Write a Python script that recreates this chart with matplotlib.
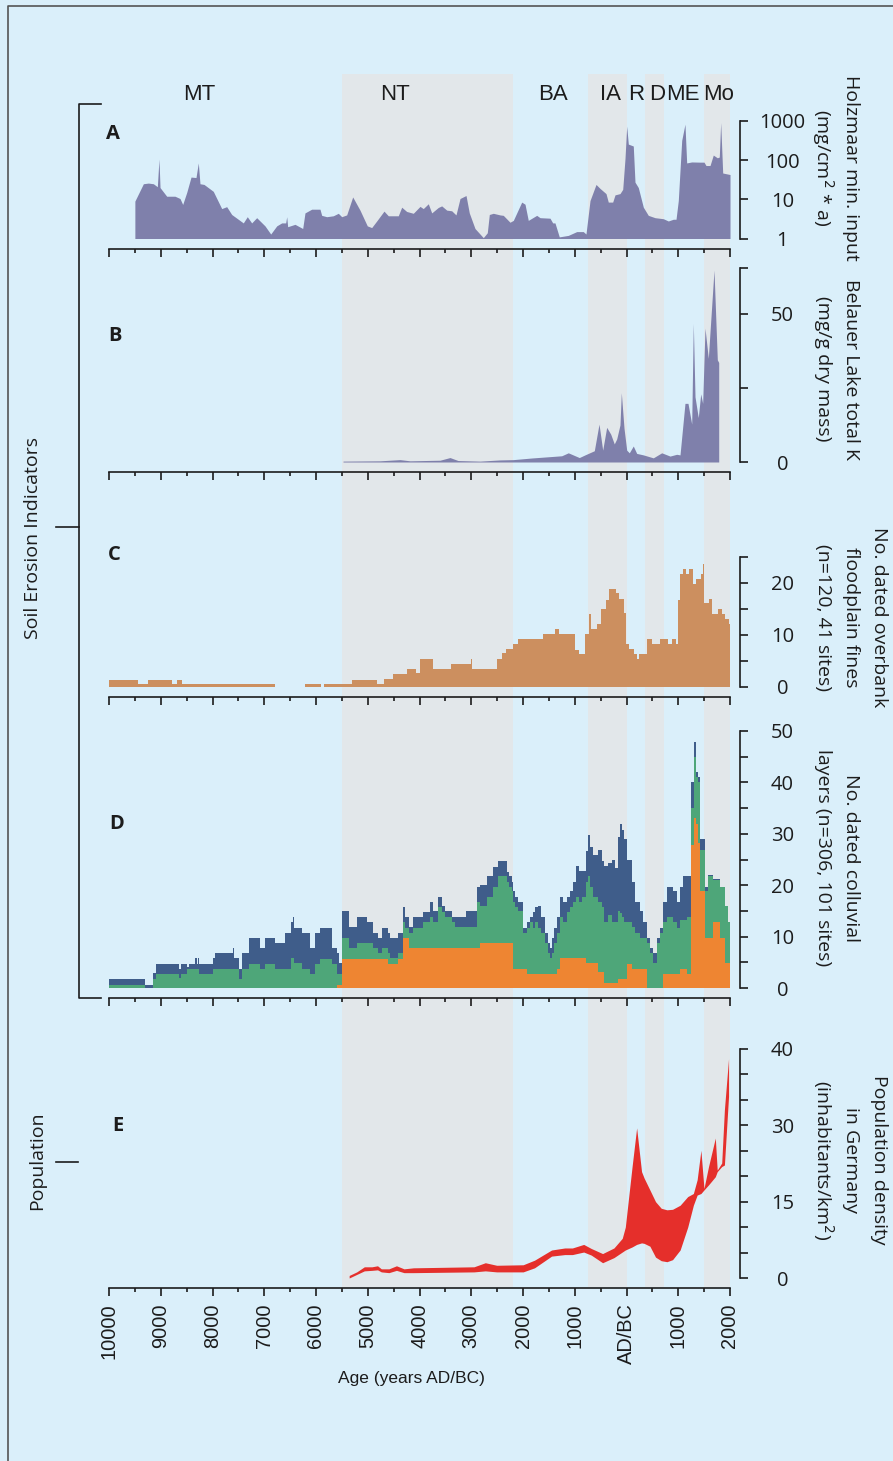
import matplotlib.pyplot as plt
from matplotlib.ticker import MultipleLocator, NullLocator

plt.rcParams['font.family'] = ['Open Sans', 'DejaVu Sans']

# years: negative = BC, positive = AD
periods = ['MT', 'NT', 'BA', 'IA', 'R', 'D', 'ME', 'Mo']
period_x = [-8260, -4470, -1420, -300, 190, 590, 1090, 1780]
shaded = [(-5500, -2200), (-750, 0), (350, 725), (1500, 2000)]

# A  Holzmaar minerogenic input (mg/cm2*a), log scale
holz_year = [-9500, -9336, -9240, -9143, -9066, -9034, -9014, -8885, -8725, -8628,
             -8576, -8498, -8415, -8319, -8274, -8242, -8164, -7985, -7822, -7726,
             -7629, -7405, -7328, -7243, -7146, -6986, -6875, -6759, -6663, -6586,
             -6566, -6547, -6406, -6257, -6213, -6083, -5923, -5890, -5793, -5666,
             -5569, -5503, -5407, -5291, -5150, -5009, -4924, -4827, -4686, -4603,
             -4410, -4344, -4248, -4120, -3990, -3927, -3830, -3764, -3637, -3571,
             -3474, -3378, -3295, -3217, -3101, -3038, -2928, -2767, -2690, -2651,
             -2574, -2444, -2381, -2251, -2187, -2025, -1961, -1898, -1735, -1671,
             -1478, -1426, -1382, -1299, -1125, -962, -835, -783, -705, -589,
             -512, -396, -352, -267, -222, -126, -73, -29, 4, 35,
             131, 164, 228, 325, 421, 551, 711, 808, 904, 957,
             1001, 1067, 1130, 1163, 1260, 1420, 1498, 1536, 1614, 1677,
             1755, 1793, 1820, 1859, 2000]
holz_val = [9, 25, 26, 25, 21, 107, 20, 12, 12, 10.5,
            7.4, 15, 37, 36, 85, 25, 24, 16, 5.8, 6.5,
            4.1, 2.5, 3.6, 2.5, 3.4, 2.1, 1.3, 2.1, 2.5, 2.5,
            3.6, 2.0, 2.3, 1.8, 4.5, 5.6, 5.6, 3.9, 3.6, 3.8,
            4.4, 3.6, 4.0, 11.5, 5.3, 2.1, 1.9, 2.8, 5.0, 3.8,
            3.8, 6.3, 4.9, 4.4, 6.6, 5.8, 7.7, 4.5, 6.2, 6.8,
            5.3, 5.1, 4.0, 10.5, 12.5, 4.5, 1.8, 1.05, 1.4, 4.1,
            4.4, 4.0, 3.9, 2.6, 2.9, 8.5, 7.5, 2.9, 3.9, 3.4,
            3.3, 2.5, 2.5, 1.1, 1.2, 1.5, 1.5, 1.3, 9.3, 24,
            19, 14, 8.5, 8.5, 13, 14, 18, 110, 740, 257,
            230, 27.5, 20, 6.3, 3.9, 3.4, 3.2, 2.8, 3.1, 3.1,
            9.3, 320, 830, 85, 90, 89, 89, 73, 73, 135,
            115, 120, 910, 47, 43]

# B  Belauer Lake total K (mg/g dry mass)
bel_year = [-5478, -4763, -4377, -4184, -3604, -3411, -3256, -2831, -2444, -2187,
            -1832, -1252, -1125, -912, -802, -622, -531, -460, -383, -305,
            -236, -189, -126, -100, -48, 4, 54, 131, 197, 325,
            518, 680, 841, 970, 1034, 1130, 1188, 1260, 1291, 1324,
            1387, 1434, 1472, 1517, 1581, 1691, 1755, 1782]
bel_val = [0.3, 0.4, 0.8, 0.4, 0.6, 1.5, 0.5, 0.3, 0.7, 0.8,
           1.35, 2.1, 3.1, 1.5, 2.4, 3.8, 12.8, 4.0, 11.7, 9.4,
           6.1, 7.8, 12.5, 23.4, 11.4, 4.0, 3.1, 5.4, 2.9, 2.4,
           1.4, 3.1, 2.0, 2.6, 2.4, 19.8, 19.8, 12.8, 46.8, 22,
           15, 23, 19.8, 45.2, 35, 64.8, 34.5, 33.6]

# C  dated overbank floodplain fines (step series, edges in years)
fines_edges = [-10000, -9439, -9240, -8792, -8688, -8593, -6799, -6221, -5902, -5841,
               -5298, -4823, -4694, -4521, -4237, -4073, -3987, -3745, -3400, -3012,
               -2986, -2494, -2408, -2322, -2192, -2089, -1605, -1373, -1312, -1002,
               -915, -795, -726, -683, -579, -493, -398, -338, -208, -148,
               -53, -9, 51, 137, 206, 249, 396, 499, 655, 810,
               870, 957, 1000, 1043, 1086, 1155, 1215, 1276, 1345, 1431,
               1483, 1500, 1586, 1647, 1776, 1845, 1906, 1975, 2000]
fines_val = [1.4, 0.5, 1.4, 0.5, 1.4, 0.5, 0, 0.5, 0, 0.5,
             1.4, 0.5, 1.5, 2.45, 3.4, 2.6, 5.35, 3.4, 4.5, 5.35,
             3.4, 5.35, 6.45, 7.3, 8.25, 9.2, 10.2, 11.1, 10.2, 7.1,
             6.3, 10.2, 14.1, 11.1, 12.1, 15.0, 16.8, 18.9, 18.1, 16.9,
             14.2, 8.25, 7.3, 6.3, 5.35, 6.3, 9.2, 8.25, 9.2, 8.25,
             9.2, 8.25, 16.8, 21.8, 22.7, 21.8, 22.7, 19.9, 20.8, 21.8,
             23.7, 16.1, 16.9, 14.1, 15.0, 14.1, 13.0, 12.1]

# D  dated colluvial layers, cumulative tops of the three stacked groups
coll_edges = [-10000, -9304, -9143, -9092, -8647, -8615, -8486, -8448, -8338, -8306,
              -8274, -8254, -7984, -7952, -7610, -7584, -7481, -7436, -7288, -7082,
              -6986, -6792, -6599, -6490, -6451, -6419, -6264, -6116, -6020, -5923,
              -5697, -5601, -5549, -5498, -5356, -5214, -5008, -4892, -4796, -4731,
              -4602, -4570, -4409, -4312, -4280, -4197, -4119, -3939, -3797, -3733,
              -3637, -3572, -3508, -3379, -3314, -3102, -2896, -2831, -2702, -2573,
              -2477, -2316, -2264, -2219, -2187, -2155, -2090, -1994, -1929, -1865,
              -1813, -1768, -1704, -1659, -1575, -1510, -1478, -1446, -1401, -1350,
              -1285, -1234, -1156, -1092, -1027, -976, -912, -866, -783, -738,
              -706, -641, -544, -480, -435, -351, -287, -222, -158, -126,
              -93, -48, 16, 100, 164, 261, 325, 390, 454, 518,
              583, 647, 712, 776, 892, 969, 1034, 1098, 1162, 1246,
              1298, 1343, 1388, 1420, 1517, 1581, 1678, 1807, 1903, 1968,
              2000]
coll_total = [1.75, 0.65, 2.9, 4.7, 3.7, 4.7, 4.0, 4.7, 5.8, 4.7,
              5.8, 4.7, 5.8, 6.8, 7.8, 5.8, 3.7, 6.8, 9.7, 7.8,
              9.7, 8.7, 10.7, 12.75, 13.8, 11.65, 10.7, 7.8, 10.7, 11.65,
              7.8, 6.8, 4.85, 14.9, 11.8, 13.8, 12.75, 10.7, 9.7, 11.65,
              10.7, 9.7, 10.7, 15.7, 13.8, 11.8, 13.8, 14.7, 16.8, 14.9,
              17.8, 15.9, 14.9, 13.8, 13.8, 14.9, 19.7, 20.1, 21.8, 23.6,
              24.8, 22.65, 21.8, 20.7, 18.8, 17.8, 16.8, 11.65, 12.75, 13.8,
              14.7, 15.7, 15.9, 13.8, 10.7, 8.7, 7.8, 9.7, 11.65, 13.8,
              17.8, 16.8, 17.8, 18.8, 20.7, 23.75, 22.85, 22.85, 26.7, 29.8,
              27.5, 25.9, 26.9, 24.8, 23.75, 24.3, 24.9, 23.3, 29.3, 31.9,
              30.7, 28.9, 25.0, 20.7, 16.8, 14.9, 12.75, 9.7, 7.8, 6.8,
              9.7, 11.65, 16.8, 19.7, 18.8, 16.8, 19.7, 21.7, 21.8, 40.1,
              47.9, 42, 41, 28.9, 19.7, 22, 21.2, 19.7, 15.9, 12.75]
coll_green = [0.65, 0, 1.75, 2.8, 1.9, 2.8, 3.7, 3.7, 3.7, 3.7,
              3.7, 2.8, 3.7, 3.7, 3.7, 3.7, 1.75, 3.7, 4.7, 3.7,
              4.7, 3.7, 3.7, 5.8, 5.8, 4.85, 3.7, 2.8, 4.7, 5.6,
              4.7, 2.8, 2.8, 9.7, 7.8, 8.7, 8.7, 7.8, 6.8, 7.8,
              6.8, 5.8, 6.8, 12.75, 11.65, 10.7, 11.65, 12.75, 13.8, 12.75,
              15.7, 14.7, 13.8, 12.75, 11.8, 11.8, 16.8, 15.9, 17.8, 19.7,
              21.8, 20.7, 19.7, 18.8, 16.8, 15.7, 14.9, 10.7, 11.65, 12.75,
              11.65, 12.75, 11.65, 10.7, 8.7, 6.8, 5.8, 6.8, 8.7, 10.7,
              13.8, 12.75, 14.7, 15.7, 16.8, 17.8, 16.8, 17.8, 20.7, 21.7,
              19.7, 17.8, 16.8, 15.7, 12.75, 14.2, 12.75, 12.75, 14.9, 14.6,
              13.9, 12.75, 12.75, 11.8, 10.7, 9.7, 9.7, 8.7, 6.8, 4.85,
              8.7, 10.7, 12.75, 13.8, 12.75, 11.65, 13.2, 13.2, 13.8, 35,
              45, 41, 40.1, 26.9, 18.8, 21.8, 21, 19.7, 15.9, 12.75]
coll_orange = [0, 0, 0, 0, 0, 0, 0, 0, 0, 0,
               0, 0, 0, 0, 0, 0, 0, 0, 0, 0,
               0, 0, 0, 0, 0, 0, 0, 0, 0, 0,
               0, 0.65, 0.65, 5.6, 5.6, 5.6, 5.6, 5.6, 5.6, 5.6,
               4.7, 4.7, 5.6, 9.7, 9.7, 7.8, 7.8, 7.8, 7.8, 7.8,
               7.8, 7.8, 7.8, 7.8, 7.8, 7.8, 7.8, 8.7, 8.7, 8.7,
               8.7, 8.7, 8.7, 8.7, 3.7, 3.7, 3.7, 3.7, 2.8, 2.8,
               2.8, 2.8, 2.8, 2.8, 2.8, 2.8, 2.8, 2.8, 2.8, 3.7,
               5.8, 5.8, 5.8, 5.8, 5.8, 5.8, 5.8, 5.8, 4.85, 4.85,
               4.85, 4.85, 3.2, 3.2, 1.0, 1.0, 1.0, 1.0, 1.75, 1.75,
               1.75, 1.75, 4.7, 3.7, 3.7, 3.7, 3.7, 0, 0, 0,
               0, 0, 2.8, 2.8, 2.8, 2.8, 3.7, 3.7, 2.8, 27.8,
               33, 32, 28.2, 18.8, 9.7, 9.7, 12.75, 9.7, 4.85, 4.85]

# E  population density in Germany (inhabitants/km2), lower / upper estimate
pop_year = [-5359, -5213, -5066, -4920, -4811, -4738, -4591, -4445, -4299, -4116,
            -2947, -2728, -2508, -1997, -1777, -1448, -1193, -1046, -827, -681,
            -462, -243, -82, -23, 108, 196, 291, 342, 452, 561,
            671, 781, 890, 1036, 1183, 1292, 1365, 1438, 1497, 1585,
            1716, 1753, 1840, 1892, 1972]
pop_low = [0, 0.7, 1.4, 1.5, 1.6, 1.2, 1.05, 1.5, 1.05, 1.05,
           1.2, 1.4, 1.2, 1.2, 2.0, 4.3, 4.6, 4.6, 5.1, 4.5,
           3.0, 4.0, 5.1, 5.5, 6.1, 6.6, 6.9, 6.8, 6.25, 4.1,
           3.4, 3.2, 3.6, 5.5, 10, 14.3, 16.3, 16.6, 17.3, 18.3,
           19.9, 20.9, 21.9, 22.2, 35.7]
pop_high = [0.5, 1.2, 2.2, 2.2, 2.4, 1.8, 1.8, 2.4, 1.8, 2.0,
            2.2, 3.0, 2.5, 2.6, 3.5, 5.5, 5.9, 5.9, 6.6, 5.8,
            4.8, 5.9, 7.8, 10, 21.9, 29.5, 20.9, 19.6, 17.3, 15,
            13.7, 13.4, 13.5, 14.3, 16, 16.6, 19.3, 25.1, 17.6, 21.9,
            27.5, 21.2, 22.6, 33.1, 43.1]

age_ticks = list(range(-10000, 2001, 1000))
age_labels = [str(abs(t)) if t != 0 else 'AD/BC' for t in age_ticks]

right_labels = {
    'A': ['Holzmaar min. input', '(mg/cm$^2$ * a)'],
    'B': ['Belauer Lake total K', '(mg/g dry mass)'],
    'C': ['No. dated overbank', 'floodplain fines', '(n=120, 41 sites)'],
    'D': ['No. dated colluvial', 'layers (n=306, 101 sites)'],
    'E': ['Population density', 'in Germany', '(inhabitants/km$^2$)'],
}

W, H = 893, 1461
BG = '#daeffa'
BAND = '#e2e7ea'
INK = '#1c1c1c'
PURPLE = '#7f80ab'


def box(l, t, r, b):
    return [l / W, 1 - b / H, (r - l) / W, (b - t) / H]


fig = plt.figure(figsize=(W / 100, H / 100), dpi=100, facecolor=BG)

# shaded periods behind all panels
bg = fig.add_axes(box(109, 74, 730, 1287), zorder=0)
bg.set_xlim(-10000, 2000)
bg.set_ylim(0, 1)
bg.axis('off')
for a, b in shaded:
    bg.axvspan(a, b, color=BAND, lw=0)
for name, x in zip(periods, period_x):
    bg.text(x, 0.983, name, ha='center', va='center', fontsize=16,
            family='Liberation Sans', color=INK)


def panel(t, b):
    ax = fig.add_axes(box(109, t, 730, b), zorder=2)
    ax.patch.set_alpha(0)
    ax.set_xlim(-10000, 2000)
    ax.spines['top'].set_visible(False)
    ax.spines['left'].set_visible(False)
    ax.spines['bottom'].set_position(('outward', 7.2))
    ax.spines['right'].set_position(('outward', 7.2))
    for s in ['bottom', 'right']:
        ax.spines[s].set_linewidth(1.2)
        ax.spines[s].set_color(INK)
    ax.yaxis.set_ticks_position('right')
    ax.xaxis.set_major_locator(MultipleLocator(1000))
    ax.xaxis.set_minor_locator(MultipleLocator(500))
    ax.tick_params(axis='x', which='major', length=6, width=1.2, color=INK,
                   labelbottom=False)
    ax.tick_params(axis='x', which='minor', length=3, width=1.2, color=INK)
    ax.tick_params(axis='y', which='major', length=5.5, width=1.2, color=INK,
                   pad=25, labelsize=14.5, labelcolor=INK)
    ax.yaxis.set_minor_locator(NullLocator())
    return ax


axA = panel(121, 238.5)
axA.set_yscale('log')
axA.fill_between(holz_year, 1, holz_val, color=PURPLE, lw=0)
axA.set_ylim(1, 1000)
axA.yaxis.set_minor_locator(NullLocator())
axA.set_yticks([1, 10, 100, 1000], ['1', '10', '100', '1000'], ha='center')

axB = panel(268, 462)
axB.fill_between(bel_year, 0, bel_val, color=PURPLE, lw=0)
axB.set_ylim(0, 65.5)
axB.set_yticks([0, 25, 50, 65.5], ['0', '', '50', ''], ha='center')

axC = panel(557, 687)
axC.stairs(fines_val, fines_edges, baseline=0, fill=True, color='#cc8f5f', lw=0)
axC.set_ylim(0, 25)
axC.set_yticks(range(0, 26, 5), ['0', '', '10', '', '20', ''], ha='center')

axD = panel(731, 988)
axD.stairs(coll_orange, coll_edges, baseline=0, fill=True, color='#ee8532', lw=0)
axD.stairs(coll_green, coll_edges, baseline=coll_orange, fill=True, color='#4ea679', lw=0)
axD.stairs(coll_total, coll_edges, baseline=coll_green, fill=True, color='#3f5d8a', lw=0)
axD.set_ylim(0, 50)
axD.set_yticks(range(0, 51, 5), ['0', '', '10', '', '20', '', '30', '', '40', '', '50'],
               ha='center')

axE = panel(1049, 1278)
axE.fill_between(pop_year, pop_low, pop_high, color='#e52f2b', lw=0)
axE.set_ylim(0, 45)
axE.set_yticks(range(0, 46, 5), ['0', '', '', '15', '', '', '30', '', '', '40'],
               ha='center')
axE.set_xticks(age_ticks, age_labels, rotation=90, family='Liberation Sans',
               fontsize=14.4, color=INK)
axE.tick_params(axis='x', which='major', labelbottom=True, pad=5)

# overlay in pixel coordinates for the side texts and brackets
ov = fig.add_axes([0, 0, 1, 1], zorder=5)
ov.set_xlim(0, W)
ov.set_ylim(H, 0)
ov.axis('off')

ov.plot([7.5, 7.5, W], [H, 6, 6], color='#555555', lw=1.2)
ov.plot([101, 79, 79, 101], [104, 104, 998, 998], color=INK, lw=1.2)
ov.plot([56, 79], [527, 527], color=INK, lw=1.2)
ov.plot([56, 78], [1162, 1162], color=INK, lw=1.2)

ov.text(33, 538, 'Soil Erosion Indicators', rotation=90, ha='center', va='center',
        fontsize=14, color=INK)
ov.text(37, 1161, 'Population', rotation=90, ha='center', va='center',
        fontsize=14, color=INK)

for letter, (x, y) in zip('ABCDE', [(113, 134), (115, 336), (114, 555), (117, 824), (118, 1126)]):
    ov.text(x, y, letter, ha='center', va='center', fontsize=14.5, fontweight='bold',
            color=INK)

label_y = {'A': 168, 'B': 369, 'C': 617, 'D': 858, 'E': 1160}
for key, lines in right_labels.items():
    xs = [851, 823] if len(lines) == 2 else [879, 851, 823]
    for x, line in zip(xs, lines):
        ov.text(x, label_y[key], line, rotation=-90, ha='center', va='center',
                fontsize=14, color=INK)

ov.text(411, 1378, 'Age (years AD/BC)', ha='center', va='center', fontsize=12.5,
        family='Liberation Sans', color=INK)

fig.savefig('out.png', dpi=100, facecolor=BG)
